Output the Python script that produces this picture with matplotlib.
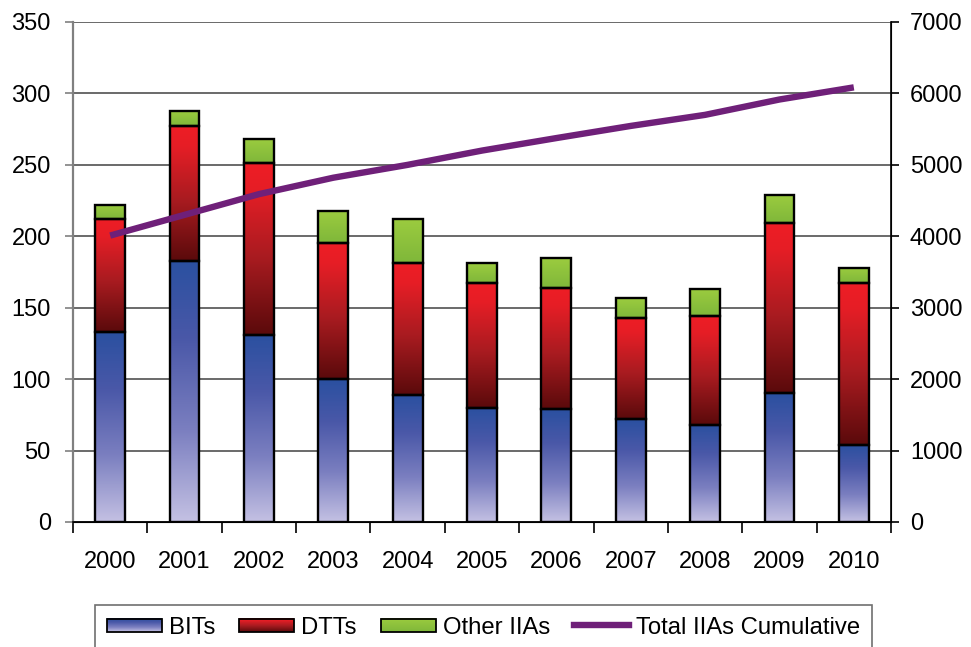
import matplotlib
matplotlib.use("Agg")
import matplotlib.pyplot as plt
import numpy as np
from matplotlib.colors import LinearSegmentedColormap
from matplotlib.image import BboxImage
from matplotlib.legend_handler import HandlerBase
from matplotlib.lines import Line2D
from matplotlib.patches import Patch, Rectangle
from matplotlib.transforms import Bbox, TransformedBbox


years = ["2000", "2001", "2002", "2003", "2004", "2005", "2006", "2007", "2008", "2009", "2010"]
bits = [133, 183, 131, 100, 89, 80, 79, 72, 68, 90, 54]
dtts = [79, 94, 120, 95, 92, 87, 85, 71, 76, 119, 113]
other_iias = [10, 11, 17, 23, 31, 14, 21, 14, 19, 20, 11]
cumulative = [4010, 4300, 4590, 4820, 5000, 5200, 5375, 5545, 5700, 5915, 6085]

plt.rcParams["font.family"] = ["Liberation Sans", "DejaVu Sans"]

BLUE_CMAP = LinearSegmentedColormap.from_list(
    "bits", [(0, "#c4c1e3"), (0.35, "#7b7fc0"), (0.7, "#4a58a8"), (1, "#2a50a0")])
RED_CMAP = LinearSegmentedColormap.from_list(
    "dtts", [(0, "#5a0a0b"), (0.45, "#a81b20"), (0.85, "#e61e26"), (1, "#ee1d25")])
GREEN_CMAP = LinearSegmentedColormap.from_list(
    "other", [(0, "#7fb73a"), (1, "#9ccc3f")])
LINE_COLOR = "#6f2079"
LABEL_SIZE = 17


def fill_gradient(ax, bars, cmap):
    grad = np.linspace(0, 1, 256).reshape(-1, 1)
    for rect in bars:
        x0, y0 = rect.get_x(), rect.get_y()
        ax.imshow(grad, extent=[x0, x0 + rect.get_width(), y0, y0 + rect.get_height()],
                  origin="lower", aspect="auto", cmap=cmap, zorder=2, interpolation="bilinear")


class GradientHandler(HandlerBase):
    def __init__(self, cmap):
        super().__init__()
        self.cmap = cmap

    def create_artists(self, legend, orig_handle, xdescent, ydescent, width, height, fontsize, trans):
        h = height * 0.75
        y = -ydescent + (height - h) / 2
        box = TransformedBbox(Bbox.from_bounds(-xdescent, y, width, h), trans)
        img = BboxImage(box, cmap=self.cmap, origin="lower", interpolation="bilinear")
        img.set_data(np.linspace(0, 1, 64).reshape(-1, 1))
        img.set_clim(0, 1)
        edge = Rectangle((-xdescent, y), width, h, facecolor="none",
                         edgecolor="black", lw=1.3, transform=trans)
        return [img, edge]


fig = plt.figure(figsize=(9.71, 6.47), dpi=100)
ax = fig.add_axes([73 / 971, 125 / 647, 818 / 971, 500 / 647])
ax2 = ax.twinx()

x = np.arange(len(years))
width = 0.4
bits_arr = np.array(bits)
dtts_arr = np.array(dtts)

bar_kw = dict(width=width, facecolor="none", edgecolor="black", linewidth=1.7, zorder=3)
b1 = ax.bar(x, bits_arr, **bar_kw)
b2 = ax.bar(x, dtts_arr, bottom=bits_arr, **bar_kw)
b3 = ax.bar(x, other_iias, bottom=bits_arr + dtts_arr, **bar_kw)
fill_gradient(ax, b1, BLUE_CMAP)
fill_gradient(ax, b2, RED_CMAP)
fill_gradient(ax, b3, GREEN_CMAP)

ax2.plot(x, cumulative, color=LINE_COLOR, lw=4.6, solid_capstyle="butt", zorder=4)

ax.set_xlim(-0.5, len(years) - 0.5)
ax.set_ylim(0, 350)
ax2.set_ylim(0, 7000)
ax.set_yticks(np.arange(0, 351, 50))
ax2.set_yticks(np.arange(0, 7001, 1000))
ax.yaxis.grid(True, color="#505050", lw=1.2)
ax.set_axisbelow(True)

# boundary tick marks, labels centred under the bars
ax.set_xticks(np.arange(-0.5, len(years), 1))
ax.set_xticklabels([])
ax.set_xticks(x, minor=True)
ax.set_xticklabels(years, minor=True)
ax.tick_params(axis="x", which="major", length=8, width=1.2, color="black")
ax.tick_params(axis="x", which="minor", length=0, pad=21, labelsize=LABEL_SIZE)
ax.tick_params(axis="y", length=6, width=1.2, color="#808080", pad=10, labelsize=LABEL_SIZE)
ax2.tick_params(axis="y", length=6, width=1.2, color="black", pad=7.5, labelsize=LABEL_SIZE)

ax.spines["top"].set_visible(False)
ax2.spines["top"].set_visible(False)
ax.spines["left"].set_color("#808080")
ax.spines["left"].set_linewidth(1.6)
ax.spines["bottom"].set_linewidth(1.2)
ax2.spines["right"].set_linewidth(1.2)
ax2.spines["left"].set_visible(False)

handles = [Patch(label="BITs"), Patch(label="DTTs"), Patch(label="Other IIAs"),
           Line2D([], [], color=LINE_COLOR, lw=4.6, label="Total IIAs Cumulative")]
handler_map = {handles[0]: GradientHandler(BLUE_CMAP),
               handles[1]: GradientHandler(RED_CMAP),
               handles[2]: GradientHandler(GREEN_CMAP)}
leg = fig.legend(handles=handles, handler_map=handler_map, ncol=4, loc="upper left",
                 bbox_to_anchor=(95 / 971, 1 - 605 / 647), borderaxespad=0,
                 fontsize=17.2, handlelength=2.3, handleheight=0.75, handletextpad=0.3,
                 columnspacing=1.0, borderpad=0.5, fancybox=False, framealpha=1)
leg.get_frame().set_edgecolor("#707070")
leg.get_frame().set_linewidth(1.2)

fig.savefig("out.png", dpi=100)
